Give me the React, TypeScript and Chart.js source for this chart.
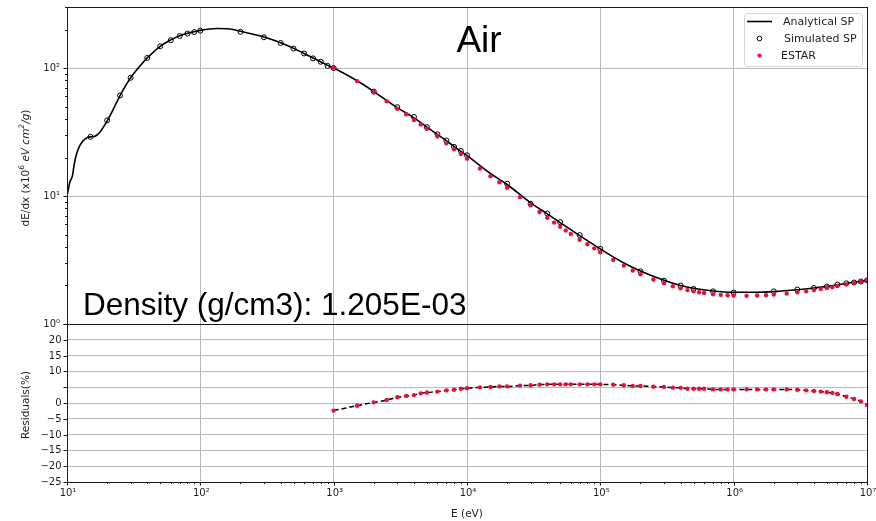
import React, { useEffect, useRef } from 'react';
import { Chart, registerables } from 'chart.js';

Chart.register(...registerables);

// ---------- data ----------
const analyticE = [10, 10.5, 11, 11.3, 11.8, 12.5, 13.3, 14.2, 15, 16.2, 17.7, 20, 22, 25, 30, 35, 40, 50, 60, 70, 80, 90, 100, 133, 160, 200, 300, 400, 500, 600, 700, 800, 900, 1000, 1500, 2000, 3000, 4000, 5000, 6000, 7000, 8000, 9000, 1e4, 1.5e4, 2e4, 3e4, 4e4, 5e4, 7e4, 1e5, 1.5e5, 2e5, 3e5, 4e5, 5e5, 7e5, 1e6, 1.5e6, 2e6, 3e6, 4e6, 5e6, 7e6, 1e7];
const analyticSP = [10, 12.8, 14.5, 17.4, 21.4, 24.9, 27.2, 28.6, 29, 29.3, 31.7, 38.6, 46.5, 61, 84, 103, 120, 148, 166, 179, 187, 192, 197, 204, 203, 194, 175, 158, 143, 130, 120, 112, 105, 100, 79.5, 65.5, 49, 40.8, 34.6, 30.3, 27.1, 24.4, 22.3, 20.7, 15.0, 12.3, 8.85, 7.25, 6.2, 4.9, 3.86, 3.0, 2.6, 2.2, 2.0, 1.9, 1.81, 1.77, 1.77, 1.79, 1.85, 1.91, 1.97, 2.07, 2.2];

const simE = [15, 20, 25, 30, 40, 50, 60, 70, 80, 90, 100, 200, 300, 400, 500, 600, 700, 800, 900, 1000, 2000, 3000, 4000, 5000, 6000, 7000, 8000, 9000, 1e4, 2e4, 3e4, 4e4, 5e4, 7e4, 1e5, 2e5, 3e5, 4e5, 5e5, 7e5, 1e6, 2e6, 3e6, 4e6, 5e6, 6e6, 7e6, 8e6, 9e6, 1e7];
const simSP = [29, 39, 61, 84, 120, 148, 165, 178, 186, 191, 196, 192, 174, 157, 142, 130, 119, 112, 104, 100, 65.5, 49.5, 41.5, 34.5, 30.4, 27.2, 24.2, 22.5, 20.8, 12.5, 8.7, 7.3, 6.25, 4.95, 3.87, 2.58, 2.18, 2.0, 1.88, 1.8, 1.76, 1.8, 1.86, 1.91, 1.96, 2.03, 2.08, 2.11, 2.15, 2.19];

const estarE = [1e3, 1.5e3, 2e3, 2.5e3, 3e3, 3.5e3, 4e3, 4.5e3, 5e3, 6e3, 7e3, 8e3, 9e3,
  1e4, 1.25e4, 1.5e4, 1.75e4, 2e4, 2.5e4, 3e4, 3.5e4, 4e4, 4.5e4, 5e4, 5.5e4, 6e4, 7e4, 8e4, 9e4,
  1e5, 1.25e5, 1.5e5, 1.75e5, 2e5, 2.5e5, 3e5, 3.5e5, 4e5, 4.5e5, 5e5, 5.5e5, 6e5, 7e5, 8e5, 9e5,
  1e6, 1.25e6, 1.5e6, 1.75e6, 2e6, 2.5e6, 3e6, 3.5e6, 4e6, 4.5e6, 5e6, 5.5e6, 6e6, 7e6, 8e6, 9e6, 1e7];
const estarSP = [101, 79, 65, 55, 48, 43.5, 39.3, 36.3, 33.5, 29.2, 25.8, 23.2, 21.3,
  19.6, 16.4, 14.3, 12.8, 11.6, 9.8, 8.45, 7.5, 6.75, 6.2, 5.75, 5.38, 5.05, 4.55, 4.2, 3.9,
  3.64, 3.17, 2.86, 2.62, 2.45, 2.23, 2.08, 1.97, 1.9, 1.84, 1.8, 1.77, 1.75, 1.71, 1.69, 1.68,
  1.67, 1.66, 1.67, 1.68, 1.7, 1.73, 1.77, 1.8, 1.84, 1.88, 1.91, 1.94, 1.98, 2.04, 2.1, 2.15, 2.2];
const residualPct = [-2.4, -0.85, 0.2, 0.95, 1.8, 2.2, 2.5, 3.05, 3.3, 3.6, 4.0, 4.2, 4.5,
  4.65, 4.95, 5.05, 5.25, 5.25, 5.5, 5.6, 5.8, 5.9, 5.9, 5.9, 5.9, 5.9, 5.9, 5.9, 5.9,
  5.9, 5.8, 5.6, 5.4, 5.4, 5.17, 5.06, 4.85, 4.8, 4.5, 4.5, 4.5, 4.5, 4.3, 4.3, 4.3,
  4.3, 4.3, 4.3, 4.3, 4.3, 4.3, 4.2, 4.0, 3.8, 3.6, 3.4, 3.2, 2.85, 2.0, 1.27, 0.5, -0.6];

const xDecades = [1e1, 1e2, 1e3, 1e4, 1e5, 1e6, 1e7];
const yDecades = [1, 10, 100];
const residualTicks = [-25, -20, -15, -10, -5, 0, 5, 10, 15, 20, 25];

const TITLE = 'Air';
const DENSITY_TEXT = 'Density (g/cm3): 1.205E-03';

// ---------- helpers ----------
const SUP: Record<string, string> = { '0': '⁰', '1': '¹', '2': '²', '3': '³', '4': '⁴', '5': '⁵', '6': '⁶', '7': '⁷', '8': '⁸', '9': '⁹', '-': '⁻' };
const pow10Label = (v: number) => '10' + String(Math.round(Math.log10(v))).split('').map((c) => SUP[c]).join('');
const residualLabel = (n: number) => (n === 25 || n === 5 ? '' : n < 0 ? '−' + Math.abs(n) : String(n));

const FONT = '10px "DejaVu Sans", sans-serif';
const GRID = '#b9b9b9';
const SPINE = '#1a1a1a';
const TXT = '#1e1e1e';
const RED = '#e3123d';

const W = 876;
const TOP_H = 330;
const BOT_TOP = 318;
const BOT_H = 521 - BOT_TOP;

function line(ctx: CanvasRenderingContext2D, x1: number, y1: number, x2: number, y2: number) {
  ctx.beginPath();
  ctx.moveTo(x1, y1);
  ctx.lineTo(x2, y2);
  ctx.stroke();
}

function spines(ctx: CanvasRenderingContext2D, a: any) {
  ctx.strokeStyle = SPINE;
  ctx.lineWidth = 1;
  ctx.strokeRect(Math.round(a.left) + 0.5, Math.round(a.top) + 0.5, Math.round(a.right) - Math.round(a.left), Math.round(a.bottom) - Math.round(a.top));
}

type Part = { t: string; f: string; dy?: number };
function drawRotated(ctx: CanvasRenderingContext2D, cx: number, cy: number, parts: Part[]) {
  ctx.save();
  ctx.translate(cx, cy);
  ctx.rotate(-Math.PI / 2);
  ctx.textBaseline = 'middle';
  ctx.textAlign = 'left';
  ctx.fillStyle = TXT;
  let total = 0;
  for (const p of parts) { ctx.font = p.f; total += ctx.measureText(p.t).width; }
  let x = -total / 2;
  for (const p of parts) {
    ctx.font = p.f;
    ctx.fillText(p.t, x, p.dy || 0);
    x += ctx.measureText(p.t).width;
  }
  ctx.restore();
}

const topDecor = {
  id: 'topDecor',
  afterDraw(chart: any) {
    const { ctx, chartArea: a, scales } = chart;
    ctx.save();
    // y tick marks
    ctx.strokeStyle = SPINE;
    ctx.lineWidth = 1;
    for (let d = 0; d <= 2; d++) {
      for (let m = 1; m <= 9; m++) {
        const v = m * Math.pow(10, d);
        if (v > 300) break;
        const py = Math.round(scales.y.getPixelForValue(v)) + 0.5;
        line(ctx, a.left - (m === 1 ? 3.5 : 2), py, a.left, py);
      }
    }
    // y tick labels
    ctx.fillStyle = TXT;
    ctx.font = FONT;
    ctx.textAlign = 'right';
    ctx.textBaseline = 'middle';
    for (const v of yDecades) {
      ctx.fillText(pow10Label(v), 60, scales.y.getPixelForValue(v) + 0.5);
    }
    spines(ctx, a);

    // title texts
    ctx.fillStyle = '#000';
    ctx.textBaseline = 'alphabetic';
    ctx.textAlign = 'center';
    ctx.font = '37px "Liberation Sans", Arial, sans-serif';
    ctx.fillText(TITLE, 479, 52);
    ctx.textAlign = 'left';
    ctx.font = '31.5px "Liberation Sans", Arial, sans-serif';
    ctx.fillText(DENSITY_TEXT, 83, 315);

    // legend
    const bx = 744.5, by = 13.5, bw = 118, bh = 53;
    ctx.fillStyle = 'rgba(255,255,255,0.85)';
    ctx.strokeStyle = '#d4d4d4';
    ctx.lineWidth = 1;
    ctx.beginPath();
    if ((ctx as any).roundRect) (ctx as any).roundRect(bx, by, bw, bh, 3); else ctx.rect(bx, by, bw, bh);
    ctx.fill();
    ctx.stroke();
    ctx.strokeStyle = '#000';
    ctx.lineWidth = 1.6;
    line(ctx, 747, 21.5, 772, 21.5);
    ctx.lineWidth = 1;
    ctx.beginPath();
    ctx.arc(759.5, 38.5, 2.3, 0, Math.PI * 2);
    ctx.stroke();
    ctx.fillStyle = RED;
    ctx.beginPath();
    ctx.arc(759.5, 55.5, 2.1, 0, Math.PI * 2);
    ctx.fill();
    ctx.fillStyle = TXT;
    ctx.font = '11px "DejaVu Sans", sans-serif';
    ctx.textBaseline = 'middle';
    ctx.fillText('Analytical SP', 783, 22);
    ctx.fillText('Simulated SP', 784, 39);
    ctx.fillText('ESTAR', 781, 56);

    // y title
    const n = '10.5px "DejaVu Sans", sans-serif';
    const it = 'italic 10.5px "DejaVu Sans", sans-serif';
    drawRotated(ctx, 26, 168, [
      { t: 'dE/dx (x10', f: n },
      { t: '6', f: '7.5px "DejaVu Sans", sans-serif', dy: -3.5 },
      { t: ' ', f: n },
      { t: 'eV cm', f: it },
      { t: '2', f: 'italic 7.5px "DejaVu Sans", sans-serif', dy: -3.5 },
      { t: '/g', f: it },
      { t: ')', f: n },
    ]);
    ctx.restore();
  },
};

const botDecor = {
  id: 'botDecor',
  afterDraw(chart: any) {
    const { ctx, chartArea: a, scales } = chart;
    ctx.save();
    ctx.strokeStyle = SPINE;
    ctx.lineWidth = 1;
    ctx.fillStyle = TXT;
    ctx.font = FONT;
    ctx.textAlign = 'right';
    ctx.textBaseline = 'middle';
    for (const v of residualTicks) {
      const py = Math.round(scales.y.getPixelForValue(v)) + 0.5;
      line(ctx, a.left - 3.5, py, a.left, py);
      const lab = residualLabel(v);
      if (lab) ctx.fillText(lab, 61.5, py);
    }
    // x ticks
    for (let d = 1; d <= 7; d++) {
      for (let m = 1; m <= 9; m++) {
        const v = m * Math.pow(10, d);
        if (v > 1e7) break;
        const px = Math.round(scales.x.getPixelForValue(v)) + 0.5;
        line(ctx, px, a.bottom, px, a.bottom + (m === 1 ? 3.5 : 2));
      }
    }
    ctx.textAlign = 'center';
    for (const v of xDecades) {
      ctx.fillText(pow10Label(v), scales.x.getPixelForValue(v) + 1, 493 - BOT_TOP);
    }
    spines(ctx, a);
    drawRotated(ctx, 26, 405 - BOT_TOP, [{ t: 'Residuals(%)', f: '10.5px "DejaVu Sans", sans-serif' }]);
    ctx.fillStyle = TXT;
    ctx.font = '10.5px "DejaVu Sans", sans-serif';
    ctx.textAlign = 'center';
    ctx.textBaseline = 'middle';
    ctx.fillText('E (eV)', 467, 514 - BOT_TOP);
    ctx.restore();
  },
};

const pts = (xs: number[], ys: number[]) => xs.map((x, i) => ({ x, y: ys[i] }));

export default function App() {
  const topRef = useRef<HTMLCanvasElement>(null);
  const botRef = useRef<HTMLCanvasElement>(null);

  useEffect(() => {
    const top = new Chart(topRef.current as HTMLCanvasElement, {
      type: 'scatter',
      data: {
        datasets: [
          { label: 'Analytical SP', data: pts(analyticE, analyticSP), showLine: true, borderColor: '#000', borderWidth: 1.6, pointRadius: 0, cubicInterpolationMode: 'monotone', order: 3 } as any,
          { label: 'Simulated SP', data: pts(simE, simSP), showLine: false, pointRadius: 2.5, pointBorderWidth: 1, borderColor: '#000', backgroundColor: 'rgba(0,0,0,0)', order: 2 },
          { label: 'ESTAR', data: pts(estarE, estarSP), showLine: false, pointRadius: 2.2, pointBorderWidth: 0, borderColor: RED, backgroundColor: RED, order: 1 },
        ],
      },
      options: {
        animation: false,
        responsive: false,
        maintainAspectRatio: false,
        layout: { padding: { left: 0, right: 9, top: 7, bottom: 0 } },
        plugins: { legend: { display: false }, tooltip: { enabled: false } },
        scales: {
          x: {
            type: 'logarithmic', min: 10, max: 1e7,
            afterBuildTicks: (s: any) => { s.ticks = xDecades.map((v) => ({ value: v })); },
            ticks: { display: false },
            grid: { color: GRID, lineWidth: 1, drawTicks: false },
            border: { display: false },
            afterFit: (s: any) => { s.height = TOP_H - 324; },
          },
          y: {
            type: 'logarithmic', min: 1, max: 300,
            afterBuildTicks: (s: any) => { s.ticks = yDecades.map((v) => ({ value: v })); },
            ticks: { display: false },
            grid: { color: GRID, lineWidth: 1, drawTicks: false },
            border: { display: false },
            afterFit: (s: any) => { s.width = 67; },
          },
        },
      } as any,
      plugins: [topDecor],
    });

    const bot = new Chart(botRef.current as HTMLCanvasElement, {
      type: 'scatter',
      data: {
        datasets: [
          { label: 'Residual', data: pts(estarE, residualPct), showLine: true, borderColor: '#000', borderWidth: 1.5, borderDash: [5, 3], pointRadius: 0, cubicInterpolationMode: 'monotone', order: 2 } as any,
          { label: 'ESTAR residual', data: pts(estarE, residualPct), showLine: false, pointRadius: 2.2, pointBorderWidth: 0, borderColor: RED, backgroundColor: RED, order: 1 },
        ],
      },
      options: {
        animation: false,
        responsive: false,
        maintainAspectRatio: false,
        layout: { padding: { left: 0, right: 9, top: 324 - BOT_TOP, bottom: 0 } },
        plugins: { legend: { display: false }, tooltip: { enabled: false } },
        scales: {
          x: {
            type: 'logarithmic', min: 10, max: 1e7,
            afterBuildTicks: (s: any) => { s.ticks = xDecades.map((v) => ({ value: v })); },
            ticks: { display: false },
            grid: { color: GRID, lineWidth: 1, drawTicks: false },
            border: { display: false },
            afterFit: (s: any) => { s.height = BOT_TOP + BOT_H - 482; },
          },
          y: {
            type: 'linear', min: -25, max: 25,
            afterBuildTicks: (s: any) => { s.ticks = residualTicks.map((v) => ({ value: v })); },
            ticks: { display: false },
            grid: { color: GRID, lineWidth: 1, drawTicks: false },
            border: { display: false },
            afterFit: (s: any) => { s.width = 67; },
          },
        },
      } as any,
      plugins: [botDecor],
    });

    return () => { top.destroy(); bot.destroy(); };
  }, []);

  return (
    <div style={{ position: 'fixed', left: 0, top: 0, width: W, height: 521, background: '#fff' }}>
      <canvas ref={topRef} width={W} height={TOP_H} style={{ position: 'absolute', left: 0, top: 0, width: W, height: TOP_H }} />
      <canvas ref={botRef} width={W} height={BOT_H} style={{ position: 'absolute', left: 0, top: BOT_TOP, width: W, height: BOT_H }} />
    </div>
  );
}
